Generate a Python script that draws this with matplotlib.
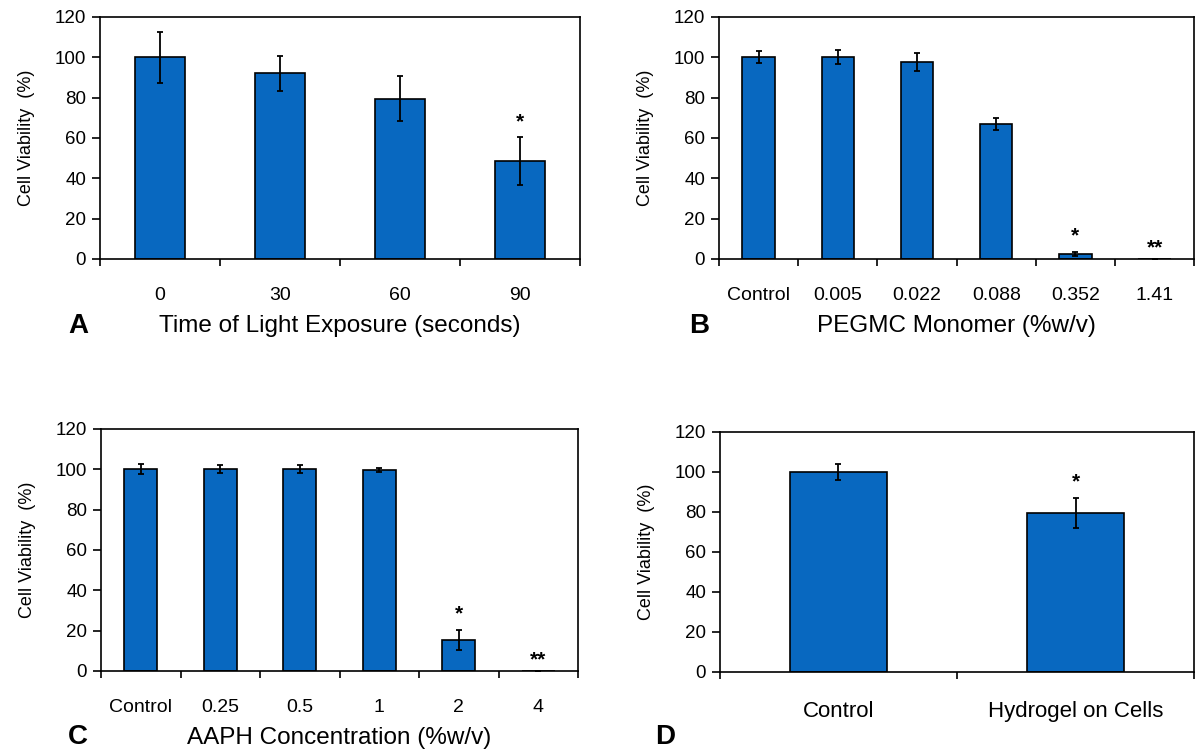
import numpy as np
import matplotlib.pyplot as plt
from matplotlib.ticker import FixedLocator, MultipleLocator

plt.rcParams['font.family'] = ['Liberation Sans', 'DejaVu Sans']

# A - time of light exposure
a_labels = ["0", "30", "60", "90"]
a_vals = [100, 92, 79.5, 48.5]
a_err = [12.5, 8.5, 11, 12]
a_star = ["", "", "", "*"]

# B - PEGMC monomer
b_labels = ["Control", "0.005", "0.022", "0.088", "0.352", "1.41"]
b_vals = [100, 100, 97.5, 67, 2.5, 0]
b_err = [3, 3.5, 4.5, 3, 1, 0]
b_star = ["", "", "", "", "*", "**"]

# C - AAPH concentration
c_labels = ["Control", "0.25", "0.5", "1", "2", "4"]
c_vals = [100, 100, 100, 99.5, 15.5, 0]
c_err = [2.5, 2, 2, 1, 5, 0]
c_star = ["", "", "", "", "*", "**"]

# D - hydrogel on cells
d_labels = ["Control", "Hydrogel on Cells"]
d_vals = [100, 79.5]
d_err = [4, 7.5]
d_star = ["", "*"]

blue = "#0868c0"

fig = plt.figure(figsize=(11.97, 7.55), dpi=100)


def panel(rect, labels, vals, err, stars, xlabel, tick_size, tick_pad):
    ax = fig.add_axes(rect)
    x = np.arange(len(vals))
    ax.bar(x, vals, width=0.41, color=blue, edgecolor="black", linewidth=1.2, zorder=2)
    ax.errorbar(x, vals, yerr=err, fmt="none", ecolor="black", elinewidth=1.3,
                capsize=2.5, capthick=1.3, zorder=3)
    for xi, v, e, s in zip(x, vals, err, stars):
        if s:
            y = v + e + 3 if v > 0 else 1
            ax.text(xi, y, s, ha="center", va="bottom", fontsize=15, fontweight="bold")
    ax.set_xlim(-0.5, len(vals) - 0.5)
    ax.set_ylim(0, 120)
    ax.yaxis.set_major_locator(MultipleLocator(20))
    ax.set_xticks(x)
    ax.set_xticklabels(labels)
    ax.xaxis.set_minor_locator(FixedLocator(np.arange(len(vals) + 1) - 0.5))
    ax.tick_params(axis="x", which="major", length=0, pad=tick_pad, labelsize=tick_size)
    ax.tick_params(axis="x", which="minor", length=5, width=1.2, direction="out")
    ax.tick_params(axis="y", length=6, width=1.2, direction="out", labelsize=13.5, pad=4)
    for sp in ax.spines.values():
        sp.set_linewidth(1.2)
    ax.set_ylabel("Cell Viability  (%)", fontsize=13, labelpad=14)
    if xlabel:
        ax.set_xlabel(xlabel, fontsize=17.5, labelpad=8)
    return ax


axA = panel([0.0835, 0.657, 0.401, 0.3205], a_labels, a_vals, a_err, a_star,
            "Time of Light Exposure (seconds)", 14, 20)
axB = panel([0.6007, 0.657, 0.397, 0.3205], b_labels, b_vals, b_err, b_star,
            "PEGMC Monomer (%w/v)", 14, 20)
axC = panel([0.0844, 0.1113, 0.3985, 0.3205], c_labels, c_vals, c_err, c_star,
            "AAPH Concentration (%w/v)", 14, 20)
axD = panel([0.6015, 0.110, 0.3960, 0.318], d_labels, d_vals, d_err, d_star,
            "", 16, 21)

# panel letters
fig.text(0.057, 0.568, "A", fontsize=20, fontweight="bold", ha="left", va="center")
fig.text(0.576, 0.568, "B", fontsize=20, fontweight="bold", ha="left", va="center")
fig.text(0.057, 0.024, "C", fontsize=20, fontweight="bold", ha="left", va="center")
fig.text(0.547, 0.024, "D", fontsize=20, fontweight="bold", ha="left", va="center")

fig.savefig("out.png", dpi=100)
